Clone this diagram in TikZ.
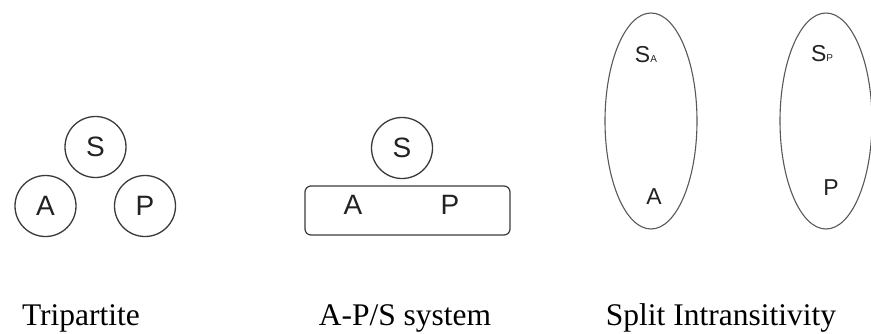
\documentclass[tikz,border=0pt]{standalone}
\usepackage{fontspec}
\setmainfont{Liberation Serif}
\newfontfamily\lsans{Liberation Sans}
\usetikzlibrary{shapes.geometric}
\definecolor{linec}{HTML}{3A3A3A}
\definecolor{txtc}{HTML}{222222}
\begin{document}
\begin{tikzpicture}[x=1pt,y=-1pt,
  circ/.style={circle,draw=linec,line width=1.3pt,minimum size=61pt,inner sep=0pt,
    font=\lsans\fontsize{28}{28}\selectfont,text=txtc},
  bigell/.style={ellipse,draw=linec!85,line width=1.1pt,minimum width=92pt,minimum height=216pt,inner sep=0pt},
  aprect/.style={rectangle,rounded corners=6pt,draw=linec,line width=1.2pt,minimum width=205pt,minimum height=49pt,inner sep=0pt},
  letter/.style={inner sep=0pt,font=\lsans\fontsize{28}{28}\selectfont,text=txtc},
  eletter/.style={inner sep=0pt,font=\lsans\fontsize{23}{23}\selectfont,text=txtc},
  caption/.style={anchor=base,inner sep=0pt,font=\fontsize{31.5}{32}\selectfont}]
\useasboundingbox (0,0) rectangle (871,333);
% Tripartite
\node[circ] (tS) at (95.5,147) {S};
\node[circ] (tA) at (45.5,206) {A};
\node[circ] (tP) at (145,206) {P};
% A-P/S system
\node[circ] (aS) at (402,148) {S};
\node[aprect] (aR) at (407.5,210.5) {};
\node[letter] (aA) at (353,205) {A};
\node[letter] (aP) at (450,205) {P};
% Split intransitivity
\node[bigell] (e1) at (651,121) {};
\node[bigell] (e2) at (826,121) {};
\node[eletter,anchor=base] (sa) at (646,62) {S{\fontsize{10}{10}\selectfont A}};
\node[eletter] (eA) at (654,197) {A};
\node[eletter,anchor=base] (sp) at (822,61) {S{\fontsize{10}{10}\selectfont P}};
\node[eletter] (eP) at (831,188) {P};
% captions
\node[caption] (c1) at (81,325) {Tripartite};
\node[caption] (c2) at (405,325) {A-P/S system};
\node[caption] (c3) at (721,325) {Split Intransitivity};
\end{tikzpicture}
\end{document}
